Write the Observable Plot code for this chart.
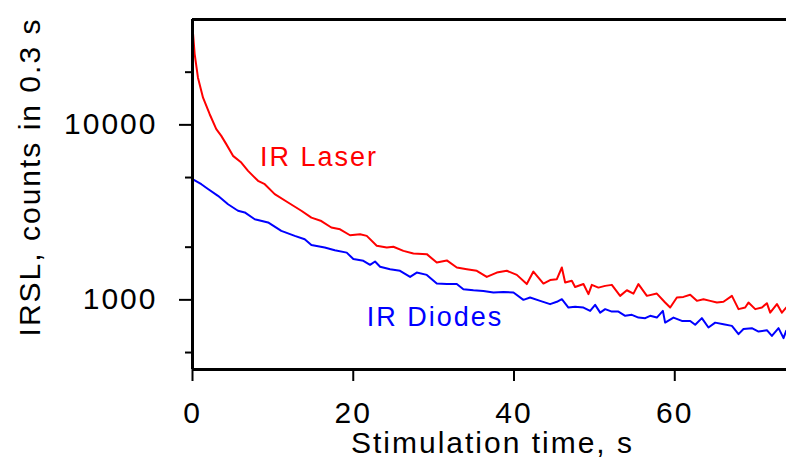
<!DOCTYPE html>
<html><head><meta charset="utf-8">
<script src="https://cdn.jsdelivr.net/npm/d3@7"></script>
<script src="https://cdn.jsdelivr.net/npm/@observablehq/plot@0.6"></script>
<style>html,body{margin:0;padding:0;background:#fff}</style>
</head><body><div id="chart"></div>
<script>
// IR Laser stimulation (red)
const laserTime = [0,0.27,0.68,1.31,2.14,2.96,3.58,4.2,5.04,6.07,6.91,8.15,8.99,10.23,11.89,13.54,14.79,16.03,17.27,18.36,19.6,20.85,21.68,22.92,24.17,24.99,26.24,27.48,29.15,30.39,31.64,32.88,34.13,35.37,36.61,37.86,39.1,40.35,41.59,42.41,43.66,44.49,45.33,45.95,46.36,47.19,47.6,48.64,49.26,49.68,50.5,51.34,52.17,53.2,54.04,54.86,55.48,56.53,57.77,58.8,59.43,60.26,61.08,61.92,62.75,63.57,64.41,65.24,66.06,67.11,67.93,68.76,69.17,70.01,70.84,71.46,71.87,72.71,73.33,73.86];
const laserCounts = [36300,25400,18600,14300,11500,9450,8650,7760,6650,6090,5460,4790,4580,4020,3600,3230,2950,2820,2590,2530,2340,2370,2320,2040,1990,2010,1905,1842,1825,1634,1680,1531,1497,1466,1352,1432,1466,1389,1231,1452,1239,1297,1313,1531,1256,1285,1185,1231,1079,1218,1175,1202,1218,1054,1135,1086,1231,1054,1086,966,904,1031,1040,1069,987,1009,987,966,975,1054,885,904,966,885,904,957,845,946,845,904];
// IR Diodes stimulation (blue)
const diodeTime = [0,1.1,1.93,3.17,4.42,5.66,6.5,7.74,9.4,11.05,12.72,13.96,14.79,16.45,17.7,19.19,20.01,21.26,22.09,22.71,23.34,24.58,25.82,27.07,27.9,29.15,30.39,31.64,32.88,33.7,34.95,36.19,37.44,38.68,39.93,41.17,42.0,43.25,44.49,45.33,45.95,46.77,47.6,48.64,49.47,50.09,50.72,51.34,52.17,52.99,53.83,54.66,55.48,56.32,56.94,57.77,58.52,58.8,59.84,60.88,61.92,62.54,63.37,64.19,65.03,66.06,67.11,67.93,68.55,69.59,70.42,71.46,72.08,72.91,73.53,73.86];
const diodeCounts = [4900,4580,4300,3930,3520,3230,3160,2890,2770,2480,2320,2220,2060,1990,1923,1862,1710,1672,1585,1656,1545,1497,1466,1352,1432,1389,1239,1231,1231,1151,1135,1125,1101,1110,1101,1000,1031,987,945,975,1009,904,912,904,865,936,845,885,857,857,811,821,792,786,811,792,865,741,792,758,758,720,786,695,741,726,710,637,681,689,659,671,622,689,604,665];

const seriesNames = ["IR Laser", "IR Diodes"];
const xTicks = [0, 20, 40, 60];
const yMajorTicks = [1000, 10000];
const yMinorTicks = [500, 2000, 5000, 20000];
const xLabel = "Stimulation time, s";
const yLabel = "IRSL, counts in 0.3 s";

const laser = laserTime.map((t, i) => ({t, c: laserCounts[i]}));
const diodes = diodeTime.map((t, i) => ({t, c: diodeCounts[i]}));

const chart = Plot.plot({
  width: 786,
  height: 465,
  marginTop: 19,
  marginBottom: 96,
  marginLeft: 192,
  marginRight: 0,
  style: "font-family: 'Liberation Sans', Arial, sans-serif; font-size: 30px; letter-spacing: 2px; color: #000; background: #fff;",
  x: {domain: [0, 73.9]},
  y: {type: "log", domain: [400, 40000]},
  marks: [
    Plot.axisX(xTicks, {tickSize: 12, tickPadding: 20, strokeWidth: 2, label: null, tickFormat: d => String(d)}),
    Plot.axisY(yMajorTicks, {tickSize: 13, tickPadding: 22, strokeWidth: 2, label: null, tickFormat: d => String(d)}),
    Plot.axisY(yMinorTicks, {tickSize: 7, tickPadding: 0, strokeWidth: 2, label: null, tickFormat: () => ""}),
    Plot.line(laser, {x: "t", y: "c", stroke: "#ff0000", strokeWidth: 2, clip: true}),
    Plot.line(diodes, {x: "t", y: "c", stroke: "#0000ff", strokeWidth: 2, clip: true}),
    Plot.ruleX([0], {strokeWidth: 3, stroke: "#000"}),
    Plot.ruleY([400, 40000], {strokeWidth: 3, stroke: "#000"}),
    Plot.text([seriesNames[0]], {x: () => 8.4, y: () => 6535, text: d => d, fill: "#ff0000", textAnchor: "start", lineAnchor: "middle", fontSize: 27, style: "letter-spacing: 2.5px"}),
    Plot.text([seriesNames[1]], {x: () => 21.68, y: () => 795, text: d => d, fill: "#0000ff", textAnchor: "start", lineAnchor: "middle", fontSize: 27}),
    Plot.text([xLabel], {frameAnchor: "bottom", dx: 3, dy: 73.4, lineAnchor: "middle", textAnchor: "middle", fontSize: 30}),
    Plot.text([yLabel], {frameAnchor: "top-left", dx: -162, dy: 157.5, rotate: -90, textAnchor: "middle", lineAnchor: "middle", fontSize: 30})
  ]
});
document.getElementById("chart").appendChild(chart);
</script>
</body></html>
